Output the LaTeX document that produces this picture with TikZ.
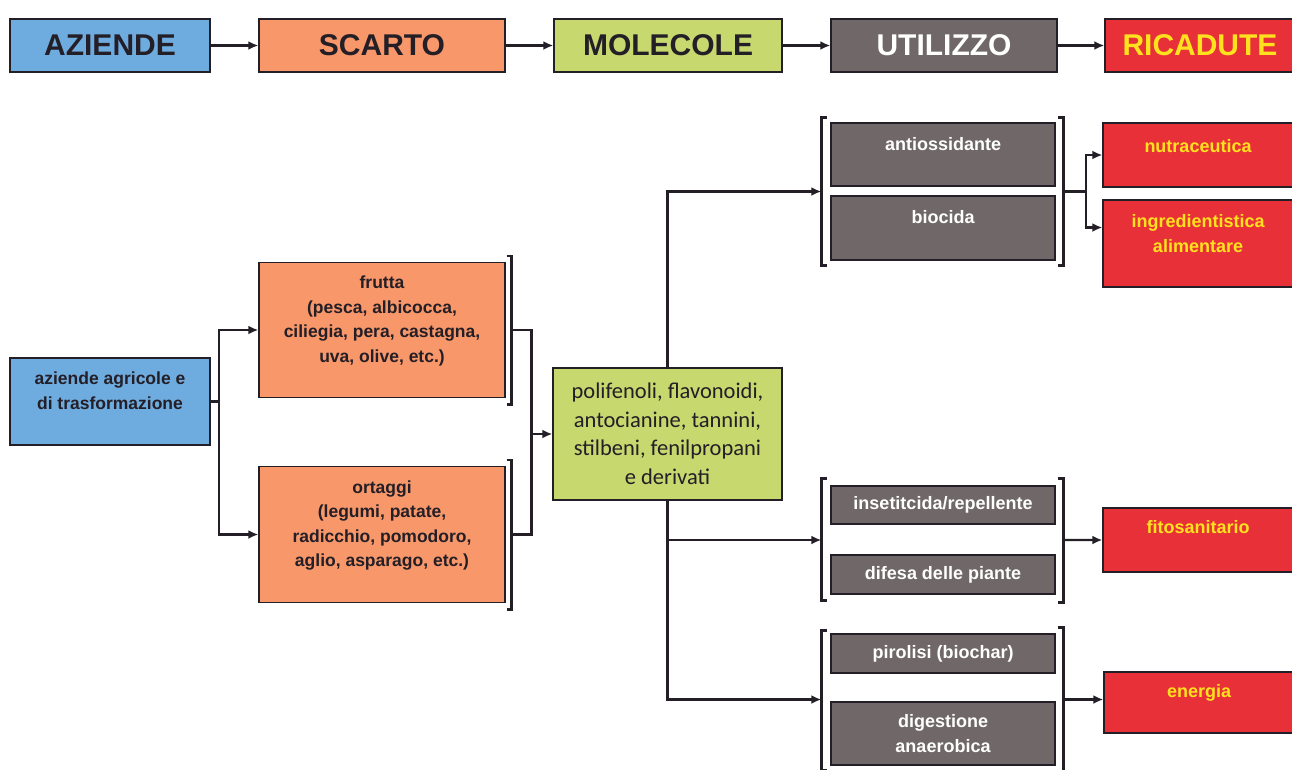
\documentclass[tikz,border=0pt]{standalone}
\usepackage{fontspec}
\setmainfont{Liberation Sans}
\newfontfamily\molfont{Carlito}
\usetikzlibrary{arrows.meta,calc}
\definecolor{azblue}{RGB}{110,172,224}
\definecolor{scorange}{RGB}{248,152,106}
\definecolor{molgreen}{RGB}{198,216,110}
\definecolor{utgrey}{RGB}{112,104,104}
\definecolor{ricred}{RGB}{232,48,56}
\definecolor{ricyellow}{RGB}{255,226,30}
\definecolor{edge}{RGB}{36,30,38}
\begin{document}
\begin{tikzpicture}
[x=1pt,y=-1pt,
box/.style={rectangle,draw=edge,line width=1.4pt,inner sep=2pt,align=center},
hdr/.style={box,minimum height=53pt,font=\fontsize{30}{32}\selectfont\bfseries},
blu/.style={box,fill=azblue,text=edge},
ora/.style={box,fill=scorange,text=edge},
gre/.style={box,fill=molgreen,text=edge},
gry/.style={box,fill=utgrey,text=white},
rd/.style={box,fill=ricred,text=ricyellow},
ftxt/.style={font=\fontsize{17.5}{24.5}\selectfont\bfseries},
gtxt/.style={font=\fontsize{18}{25}\selectfont\bfseries},
conn/.style={draw=edge,line width=2.4pt},
arr/.style={conn,-{Latex[length=10pt,width=9pt]}},
brk/.style={draw=edge,line width=2.6pt}]
\useasboundingbox (0,0) rectangle (1292,769);
\clip (0,0) rectangle (1292,769);
\fill[white] (0,0) rectangle (1292,769);
% header row
\node[hdr,blu,minimum width=200pt] (hAz) at (110,45.5) {AZIENDE};
\node[hdr,ora,minimum width=246pt] (hSc) at (382,45.5) {SCARTO};
\node[hdr,gre,minimum width=228pt] (hMo) at (668,45.5) {MOLECOLE};
\node[hdr,gry,minimum width=226pt] (hUt) at (944,45.5) {UTILIZZO};
\node[hdr,rd,minimum width=190pt] (hRi) at (1200,45.5) {RICADUTE};
\draw[arr] (hAz) -- (hSc);
\draw[arr] (hSc) -- (hMo);
\draw[arr] (hMo) -- (hUt);
\draw[arr] (hUt) -- (hRi);
% aziende and scarto
\node[blu,ftxt,minimum width=200pt,minimum height=87pt,text depth=22pt] (az) at (110,401.5) {aziende agricole e\\di trasformazione};
\node[ora,ftxt,minimum width=246pt,minimum height=135pt,text depth=22pt] (frutta) at (382,330) {frutta\\(pesca, albicocca,\\ciliegia, pera, castagna,\\uva, olive, etc.)};
\node[ora,ftxt,minimum width=246pt,minimum height=136pt,text depth=22pt] (ortaggi) at (382,534.5) {ortaggi\\(legumi, patate,\\radicchio, pomodoro,\\aglio, asparago, etc.)};
% molecole
\node[gre,minimum width=229pt,minimum height=132pt,font=\molfont\fontsize{22.5}{28.5}\selectfont] (mol) at (667.5,434) {polifenoli, flavonoidi,\\antocianine, tannini,\\stilbeni, fenilpropani\\e derivati};
% utilizzo
\node[gry,gtxt,minimum width=224pt,minimum height=63pt,text height=13pt,text depth=21pt] (antiox) at (943,154.5) {antiossidante};
\node[gry,gtxt,minimum width=224pt,minimum height=64pt,text height=13pt,text depth=23pt] (biocida) at (943,228) {biocida};
\node[gry,gtxt,minimum width=224pt,minimum height=38pt] (insett) at (943,505) {insetitcida/repellente};
\node[gry,gtxt,minimum width=224pt,minimum height=39pt] (difesa) at (943,574.5) {difesa delle piante};
\node[gry,gtxt,minimum width=224pt,minimum height=39pt] (piro) at (943,653.5) {pirolisi (biochar)};
\node[gry,gtxt,minimum width=224pt,minimum height=63pt] (digest) at (943,733.5) {digestione\\anaerobica};
% ricadute
\node[rd,gtxt,minimum width=190pt,minimum height=64pt,text height=13pt,text depth=19pt] (nutra) at (1198,155) {nutraceutica};
\node[rd,gtxt,minimum width=190pt,minimum height=87pt,text depth=20pt] (ingred) at (1198,243.5) {ingredientistica\\alimentare};
\node[rd,gtxt,minimum width=190pt,minimum height=64pt,text height=13pt,text depth=27pt] (fito) at (1198,540) {fitosanitario};
\node[rd,gtxt,minimum width=190pt,minimum height=61pt,text height=13pt,text depth=24pt] (energia) at (1199,702.5) {energia};
% brackets
\draw[brk] ([shift={(1,-6)}]frutta.north east) -- ++(5,0) -- ([shift={(6,6)}]frutta.south east) -- ++(-5,0);
\draw[brk] ([shift={(1,-6)}]ortaggi.north east) -- ++(5,0) -- ([shift={(6,6)}]ortaggi.south east) -- ++(-5,0);
\draw[brk] ([shift={(-3,-5)}]antiox.north west) -- ++(-6,0) -- ([shift={(-9,5)}]biocida.south west) -- ++(6,0);
\draw[brk] ([shift={(2,-5)}]antiox.north east) -- ++(6,0) -- ([shift={(8,5)}]biocida.south east) -- ++(-6,0);
\draw[brk] ([shift={(-3,-7)}]insett.north west) -- ++(-6,0) -- ([shift={(-9,6)}]difesa.south west) -- ++(6,0);
\draw[brk] ([shift={(2,-7)}]insett.north east) -- ++(6,0) -- ([shift={(8,8)}]difesa.south east) -- ++(-6,0);
\draw[brk] ([shift={(-3,-3)}]piro.north west) -- ++(-6,0) -- ([shift={(-9,5)}]digest.south west) -- ++(6,0);
\draw[brk] ([shift={(2,-6)}]piro.north east) -- ++(6,0) -- ([shift={(8,8)}]digest.south east) -- ++(-6,0);
\coordinate (frb) at ([xshift=6pt]frutta.east);
\coordinate (orb) at ([xshift=6pt]ortaggi.east);
\coordinate (g1in) at ($(antiox.north west)!.5!(biocida.south west)+(-9,0)$);
\coordinate (g1out) at ($(antiox.north east)!.5!(biocida.south east)+(8,0)$);
\coordinate (g2in) at ($(insett.north west)!.5!(difesa.south west)+(-9,0)$);
\coordinate (g2out) at ($(insett.north east)!.5!(difesa.south east)+(8,0)$);
\coordinate (g3in) at ($(piro.north west)!.5!(digest.south west)+(-9,0)$);
\coordinate (g3out) at ($(piro.north east)!.5!(digest.south east)+(8,0)$);
% connectors
\draw[conn] (az.east) -- ++(8,0) coordinate (azs);
\draw[arr] (azs) |- (frutta.west);
\draw[arr] (azs) |- (ortaggi.west);
\coordinate (mj) at ([xshift=-21pt]mol.west);
\draw[conn] (frb) -| (mj) |- (orb);
\draw[arr] (mj) -- (mol.west);
\draw[arr] (mol.north) |- (g1in);
\draw[arr] (mol.south) |- (g2in);
\draw[arr] (mol.south) |- (g3in);
\draw[conn] (g1out) -- ++(22,0) coordinate (g1s);
\draw[arr] (g1s) |- (nutra.west);
\draw[arr] (g1s) |- ([yshift=16pt]ingred.west);
\draw[arr] (g2out) -- (fito.west);
\draw[arr] (g3out) -- (g3out -| energia.west);
\end{tikzpicture}
\end{document}
